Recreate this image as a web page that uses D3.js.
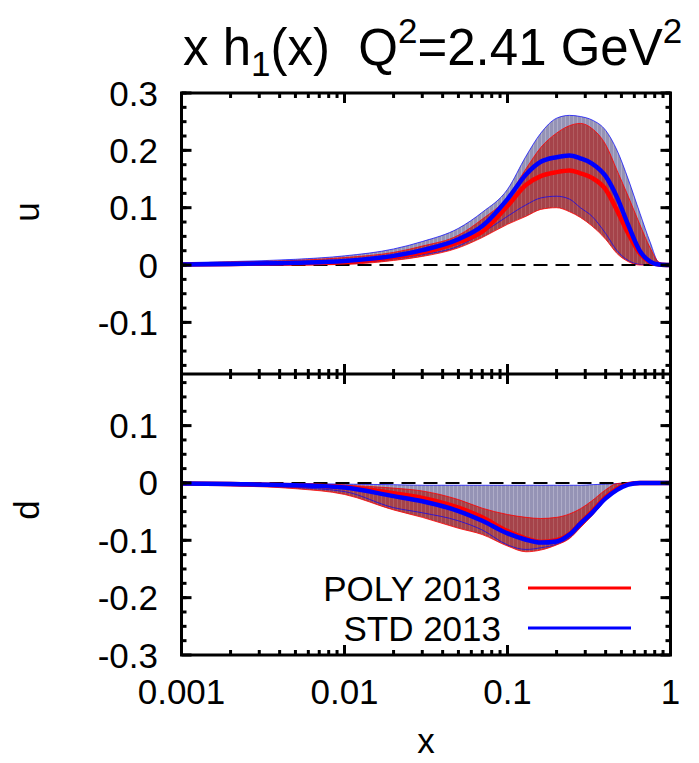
<!DOCTYPE html>
<html><head><meta charset="utf-8">
<script src="https://cdn.jsdelivr.net/npm/d3@7"></script>
<style>
body{margin:0;background:#fff;}
text{font-family:"Liberation Sans",Arial,Helvetica,sans-serif;fill:#000;}
</style></head>
<body><svg id="c" width="699" height="763"></svg>
<script>
// ---- data ----
const xs = [0.001,0.002,0.005,0.01,0.02,0.03,0.05,0.07,0.1,0.13,0.16,0.2,0.24,0.28,0.33,0.4,0.47,0.55,0.65,0.75,0.85,1.0];
// u quark
const uStdUp  = [0.004,0.006,0.010,0.016,0.028,0.041,0.064,0.092,0.132,0.190,0.230,0.256,0.261,0.259,0.253,0.235,0.200,0.150,0.090,0.040,0.004,0.0];
const uStdC   = [0.001,0.002,0.004,0.007,0.016,0.026,0.045,0.068,0.115,0.158,0.180,0.188,0.191,0.186,0.177,0.155,0.118,0.070,0.024,0.006,0.001,0.0];
const uStdLo  = [0.000,0.000,0.001,0.002,0.011,0.018,0.033,0.056,0.085,0.105,0.117,0.120,0.115,0.100,0.085,0.055,0.025,0.008,0.001,0.0,0.0,0.0];
const uPolyUp = [0.003,0.005,0.008,0.013,0.022,0.033,0.052,0.080,0.118,0.168,0.205,0.230,0.243,0.247,0.238,0.210,0.165,0.120,0.070,0.030,0.005,0.0];
const uPolyC  = [0.001,0.002,0.003,0.005,0.014,0.022,0.040,0.058,0.103,0.140,0.155,0.162,0.165,0.160,0.152,0.132,0.095,0.055,0.020,0.005,0.001,0.0];
const uPolyLo = [-0.001,-0.001,0.000,0.001,0.008,0.015,0.030,0.048,0.071,0.085,0.097,0.100,0.093,0.083,0.068,0.045,0.020,0.006,0.0,0.0,0.0,0.0];
// d quark
const dStdUp  = [0.0,0.0,-0.001,-0.002,-0.003,-0.004,-0.004,-0.004,-0.004,-0.004,-0.004,-0.004,-0.004,-0.004,-0.003,-0.002,-0.001,0.0,0.0,0.0,0.0,0.0];
const dStdC   = [-0.001,-0.002,-0.004,-0.008,-0.023,-0.032,-0.049,-0.066,-0.088,-0.099,-0.104,-0.102,-0.090,-0.071,-0.052,-0.027,-0.012,-0.003,0.0,0.0,0.0,0.0];
const dStdLo  = [-0.002,-0.004,-0.008,-0.015,-0.043,-0.052,-0.066,-0.082,-0.108,-0.116,-0.113,-0.107,-0.096,-0.077,-0.056,-0.030,-0.013,-0.004,-0.001,0.0,0.0,0.0];
const dPolyUp = [-0.001,-0.001,-0.002,-0.004,-0.009,-0.014,-0.029,-0.044,-0.055,-0.060,-0.062,-0.060,-0.054,-0.045,-0.031,-0.012,-0.001,0.0,0.0,0.0,0.0,0.0];
const dPolyC  = [-0.001,-0.002,-0.004,-0.007,-0.018,-0.026,-0.043,-0.060,-0.084,-0.097,-0.103,-0.100,-0.089,-0.070,-0.050,-0.025,-0.010,-0.002,0.0,0.0,0.0,0.0];
const dPolyLo = [-0.003,-0.005,-0.010,-0.020,-0.047,-0.060,-0.079,-0.090,-0.110,-0.120,-0.117,-0.108,-0.097,-0.078,-0.057,-0.030,-0.013,-0.004,-0.001,0.0,0.0,0.0];

const xTicks = [0.001,0.01,0.1,1];
const xTickLabels = ["0.001","0.01","0.1","1"];
const uTicks = [-0.1,0,0.1,0.2,0.3];
const uTickLabels = ["-0.1","0","0.1","0.2","0.3"];
const dTicks = [-0.3,-0.2,-0.1,0,0.1];
const dTickLabels = ["-0.3","-0.2","-0.1","0","0.1"];
const legendNames = ["POLY 2013","STD 2013"];

// ---- layout ----
const L = 181.5, R = 670.5, T = 93, M = 374, B = 655;
const svg = d3.select("#c");
const x = d3.scaleLog().domain([0.001,1]).range([L,R]);
const yU = d3.scaleLinear().domain([-0.19,0.3]).range([M,T]);
const yD = d3.scaleLinear().domain([-0.3,0.19]).range([B,M]);

const colStd = "#0000ff", colPoly = "#ff0000";

const defs = svg.append("defs");
defs.append("clipPath").attr("id","cu").append("rect").attr("x",L).attr("y",T).attr("width",R-L).attr("height",M-T);
defs.append("clipPath").attr("id","cd").append("rect").attr("x",L).attr("y",M).attr("width",R-L).attr("height",B-M);
function stripes(id, base, light){
  const p = defs.append("pattern").attr("id",id).attr("patternUnits","userSpaceOnUse").attr("width",4).attr("height",10);
  p.append("rect").attr("width",4).attr("height",10).attr("fill",base);
  p.append("rect").attr("x",1).attr("width",1).attr("height",10).attr("fill",light);
}
stripes("pStd","#9593b5","#aeacc8");
stripes("pPoly","#a5434a","#b25c60");

function panel(y, clip, sUp, sC, sLo, pUp, pC, pLo){
  const g = svg.append("g").attr("clip-path","url(#"+clip+")");
  const pts = arr => xs.map((v,i)=>[v,arr[i]]);
  const area = (up,lo) => d3.area().x((d,i)=>x(xs[i])).y0((d,i)=>y(lo[i])).y1((d,i)=>y(up[i])).curve(d3.curveMonotoneX)(xs);
  const line = d3.line().x(d=>x(d[0])).y(d=>y(d[1])).curve(d3.curveMonotoneX);
  g.append("path").attr("d",area(sUp,sLo)).attr("fill","url(#pStd)");
  g.append("path").attr("d",area(pUp,pLo)).attr("fill","url(#pPoly)");
  [sUp,sLo].forEach(a=>g.append("path").attr("d",line(pts(a))).attr("fill","none").attr("stroke",colStd).attr("stroke-width",1).attr("stroke-opacity",0.7));
  [pUp,pLo].forEach(a=>g.append("path").attr("d",line(pts(a))).attr("fill","none").attr("stroke",colPoly).attr("stroke-width",1).attr("stroke-opacity",0.8));
  g.append("line").attr("x1",L).attr("x2",R).attr("y1",y(0)).attr("y2",y(0))
    .attr("stroke","#000").attr("stroke-width",2).attr("stroke-dasharray","14,8");
  g.append("path").attr("d",line(pts(pC))).attr("fill","none").attr("stroke",colPoly).attr("stroke-width",4.5);
  g.append("path").attr("d",line(pts(sC))).attr("fill","none").attr("stroke",colStd).attr("stroke-width",4.5);
}
panel(yU,"cu",uStdUp,uStdC,uStdLo,uPolyUp,uPolyC,uPolyLo);
panel(yD,"cd",dStdUp,dStdC,dStdLo,dPolyUp,dPolyC,dPolyLo);

// ---- ticks ----
const tk = svg.append("g").attr("stroke","#000").attr("stroke-width",3);
const minorX = [];
for (let e=-3;e<0;e++) for (let m=2;m<=9;m++) minorX.push(m*Math.pow(10,e));
function xtick(v,len){
  const px = x(v);
  tk.append("line").attr("x1",px).attr("x2",px).attr("y1",T).attr("y2",T+len);
  tk.append("line").attr("x1",px).attr("x2",px).attr("y1",B).attr("y2",B-len);
  tk.append("line").attr("x1",px).attr("x2",px).attr("y1",M-len).attr("y2",M+len);
}
minorX.forEach(v=>xtick(v,5));
xTicks.forEach(v=>xtick(v,10));
function ytick(scale,v,len){
  const py = scale(v);
  tk.append("line").attr("x1",L).attr("x2",L+len).attr("y1",py).attr("y2",py);
  tk.append("line").attr("x1",R).attr("x2",R-len).attr("y1",py).attr("y2",py);
}
d3.range(-0.175,0.3001,0.025).forEach(v=>ytick(yU,v,5));
uTicks.forEach(v=>ytick(yU,v,10));
d3.range(-0.275,0.19,0.025).forEach(v=>ytick(yD,v,5));
dTicks.forEach(v=>ytick(yD,v,10));

// frame
svg.append("rect").attr("x",L).attr("y",T).attr("width",R-L).attr("height",B-T)
  .attr("fill","none").attr("stroke","#000").attr("stroke-width",3);
svg.append("line").attr("x1",L).attr("x2",R).attr("y1",M).attr("y2",M).attr("stroke","#000").attr("stroke-width",3);

// ---- labels ----
const fs = 35;
xTicks.forEach((v,i)=>svg.append("text").attr("x",x(v)).attr("y",B+49).attr("text-anchor","middle")
  .attr("font-size",fs).text(xTickLabels[i]));
uTicks.forEach((v,i)=>svg.append("text").attr("x",158).attr("y",yU(v)+12.5).attr("text-anchor","end")
  .attr("font-size",fs).text(uTickLabels[i]));
dTicks.forEach((v,i)=>svg.append("text").attr("x",158).attr("y",yD(v)+12.5).attr("text-anchor","end")
  .attr("font-size",fs).text(dTickLabels[i]));
svg.append("text").attr("transform","translate(39,212) rotate(-90)").attr("text-anchor","middle")
  .attr("font-size",fs).text("u");
svg.append("text").attr("transform","translate(39,510) rotate(-90)").attr("text-anchor","middle")
  .attr("font-size",fs).text("d");
svg.append("text").attr("x",(L+R)/2).attr("y",753).attr("text-anchor","middle").attr("font-size",fs).text("x");

// title
const tt = svg.append("text").attr("x",183).attr("y",65).attr("font-size",51).style("white-space","pre");
tt.append("tspan").text("x h");
tt.append("tspan").attr("font-size",35).attr("dy",11).text("1");
tt.append("tspan").attr("dy",-11).text("(x)  Q");
tt.append("tspan").attr("font-size",35).attr("dy",-22).text("2");
tt.append("tspan").attr("dy",22).text("=2.41 GeV");
tt.append("tspan").attr("font-size",35).attr("dy",-22).text("2");

// legend
const legCols = [colPoly,colStd];
legendNames.forEach((n,i)=>{
  const ly = 588 + i*40;
  svg.append("text").attr("x",501).attr("y",ly+12.5).attr("text-anchor","end").attr("font-size",fs).text(n);
  svg.append("line").attr("x1",528).attr("x2",631).attr("y1",ly).attr("y2",ly).attr("stroke",legCols[i]).attr("stroke-width",3);
});
</script></body></html>
